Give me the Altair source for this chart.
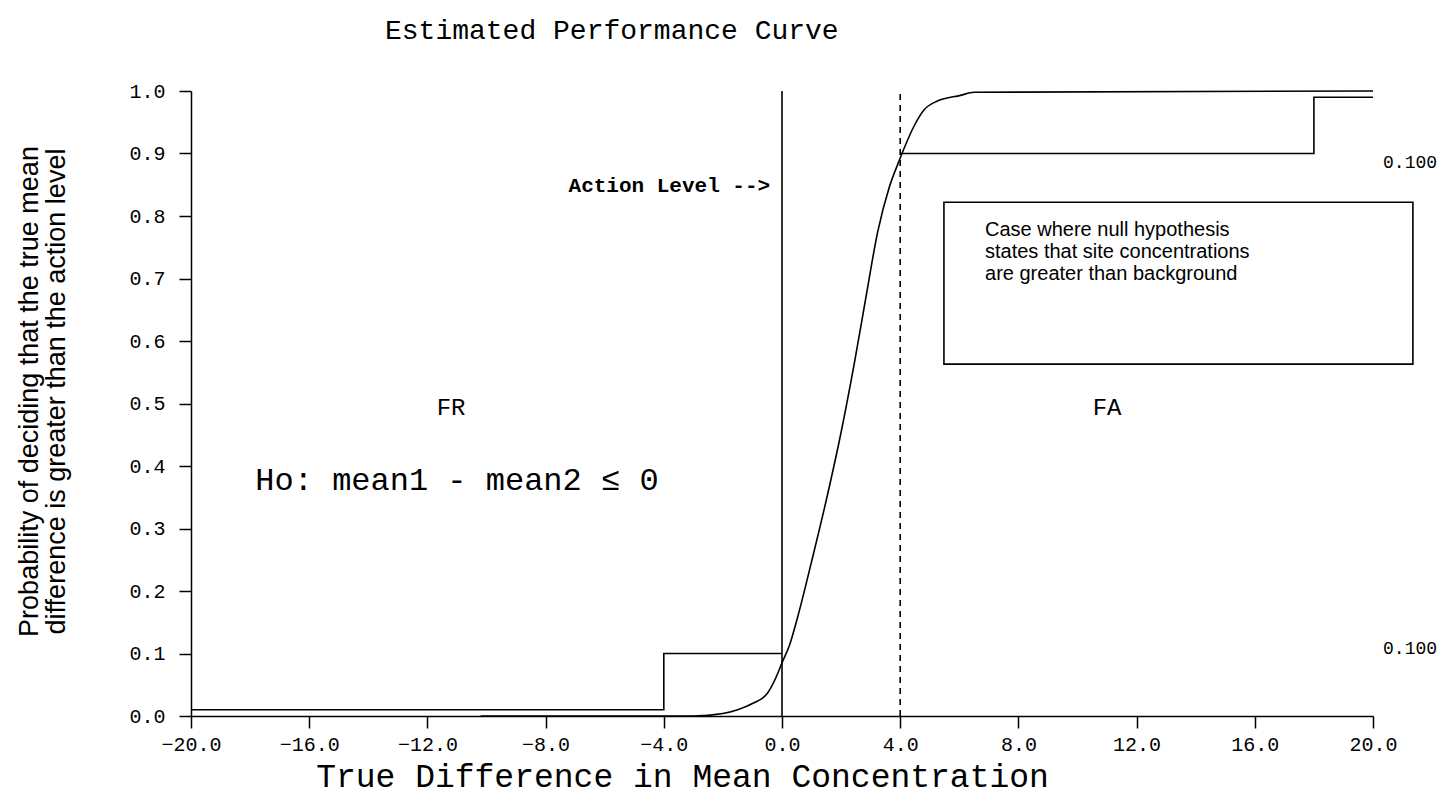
import altair as alt
import pandas as pd

# ---- data ----
curve_x = [-10.2, -3.0, -2.0, -1.5, -1.0, -0.5, -0.2, 0.0, 0.26, 0.54, 0.99, 1.55, 2.0,
           2.45, 2.84, 3.24, 3.63, 3.97, 4.13, 4.47, 4.81, 5.26, 6.04, 6.5, 20.0]
curve_y = [0.0, 0.0, 0.004, 0.01, 0.02, 0.036, 0.062, 0.085, 0.114, 0.16, 0.245, 0.356, 0.454,
           0.565, 0.67, 0.775, 0.846, 0.889, 0.908, 0.944, 0.97, 0.984, 0.993, 0.998, 1.0]

low_step_x = [-20.0, -4.0, -4.0, 0.0]
low_step_y = [0.01, 0.01, 0.1, 0.1]
high_step_x = [4.0, 18.0, 18.0, 20.0]
high_step_y = [0.9, 0.9, 0.99, 0.99]

action_level = 0.0
gray_region_edge = 4.0

x_ticks = [-20, -16, -12, -8, -4, 0, 4, 8, 12, 16, 20]
y_ticks = [0.0, 0.1, 0.2, 0.3, 0.4, 0.5, 0.6, 0.7, 0.8, 0.9, 1.0]

box_x = [5.48]
box_x2 = [21.35]
box_y = [0.822]
box_y2 = [0.563]
box_lines = ["Case where null hypothesis",
             "states that site concentrations",
             "are greater than background"]

right_labels = ["0.100", "0.100"]
right_label_y = [0.885, 0.107]

# ---- chart ----
W, H = 1182, 625
xs = alt.Scale(domain=[-20, 20], nice=False, zero=False)
ys = alt.Scale(domain=[0, 1], nice=False, zero=False)

x_axis = alt.Axis(values=x_ticks, format=".1f", grid=False, domainColor="black",
                  domainWidth=1.5, tickColor="black", tickWidth=1.5, tickSize=12,
                  labelFont="Liberation Mono", labelFontSize=20, labelColor="black",
                  labelPadding=6, labelFlush=False, labelOverlap=False,
                  title="True Difference in Mean Concentration",
                  titleFont="Liberation Mono", titleFontSize=33, titleFontWeight="normal",
                  titleColor="black", titleX=491, titleY=44)
y_axis = alt.Axis(values=y_ticks, format=".1f", grid=False, domainColor="black",
                  domainWidth=1.5, tickColor="black", tickWidth=1.5, tickSize=12,
                  labelFont="Liberation Mono", labelFontSize=20, labelColor="black",
                  labelPadding=14, labelFlush=False, labelOverlap=False,
                  title=["Probability of deciding that the true mean",
                         "difference is greater than the action level"],
                  titleFont="Liberation Sans", titleFontSize=27, titleFontWeight="normal",
                  titleColor="black", titleX=-148, titleY=300, titleLineHeight=27)

curve_df = pd.DataFrame({"x": curve_x, "y": curve_y})
curve = alt.Chart(curve_df).mark_line(color="black", strokeWidth=1.6,
                                      interpolate="monotone").encode(
    x=alt.X("x:Q", scale=xs, axis=x_axis),
    y=alt.Y("y:Q", scale=ys, axis=y_axis),
)

low_df = pd.DataFrame({"x": low_step_x, "y": low_step_y, "o": range(4)})
low = alt.Chart(low_df).mark_line(color="black", strokeWidth=1.6).encode(
    x=alt.X("x:Q", scale=xs), y=alt.Y("y:Q", scale=ys), order="o:Q")

high_df = pd.DataFrame({"x": high_step_x, "y": high_step_y, "o": range(4)})
high = alt.Chart(high_df).mark_line(color="black", strokeWidth=1.6).encode(
    x=alt.X("x:Q", scale=xs), y=alt.Y("y:Q", scale=ys), order="o:Q")

vline_df = pd.DataFrame({"x": [action_level], "y": [0.0], "y2": [1.0]})
vline = alt.Chart(vline_df).mark_rule(color="black", strokeWidth=1.6).encode(
    x=alt.X("x:Q", scale=xs), y=alt.Y("y:Q", scale=ys), y2="y2:Q")

dline_df = pd.DataFrame({"x": [gray_region_edge], "y": [0.0], "y2": [1.0]})
dline = alt.Chart(dline_df).mark_rule(color="black", strokeWidth=1.6,
                                      strokeDash=[6, 5]).encode(
    x=alt.X("x:Q", scale=xs), y=alt.Y("y:Q", scale=ys), y2="y2:Q")

box_df = pd.DataFrame({"x": box_x, "x2": box_x2, "y": box_y, "y2": box_y2})
box = alt.Chart(box_df).mark_rect(fill="white", stroke="black", strokeWidth=1.6).encode(
    x=alt.X("x:Q", scale=xs), x2="x2:Q", y=alt.Y("y:Q", scale=ys), y2="y2:Q")

box_text_df = pd.DataFrame({"x": [6.87], "y": [0.793], "t": [box_lines]})
box_text = alt.Chart(box_text_df).mark_text(
    font="Liberation Sans", fontSize=20, align="left", baseline="top",
    lineHeight=22, color="black").encode(
    x=alt.X("x:Q", scale=xs), y=alt.Y("y:Q", scale=ys), text="t")

action_df = pd.DataFrame({"x": [-0.4], "y": [0.848], "t": ["Action Level -->"]})
action = alt.Chart(action_df).mark_text(
    font="Liberation Mono", fontSize=21, fontWeight="bold", align="right",
    baseline="middle", color="black").encode(
    x=alt.X("x:Q", scale=xs), y=alt.Y("y:Q", scale=ys), text="t")

region_df = pd.DataFrame({"x": [-11.2, 11.0], "y": [0.493, 0.493], "t": ["FR", "FA"]})
regions = alt.Chart(region_df).mark_text(
    font="Liberation Mono", fontSize=24, align="center", baseline="middle",
    color="black").encode(
    x=alt.X("x:Q", scale=xs), y=alt.Y("y:Q", scale=ys), text="t")

ho_df = pd.DataFrame({"x": [-11.0], "y": [0.378], "t": ["Ho: mean1 - mean2 ≤ 0"]})
ho = alt.Chart(ho_df).mark_text(
    font="Liberation Mono", fontSize=32, align="center", baseline="middle",
    color="black").encode(
    x=alt.X("x:Q", scale=xs), y=alt.Y("y:Q", scale=ys), text="t")

rl_df = pd.DataFrame({"x": [20.34, 20.34], "y": right_label_y, "t": right_labels})
rlab = alt.Chart(rl_df).mark_text(
    font="Liberation Mono", fontSize=18, align="left", baseline="middle",
    color="black").encode(
    x=alt.X("x:Q", scale=xs), y=alt.Y("y:Q", scale=ys), text="t")

chart = alt.layer(
    box, box_text, low, high, vline, dline, curve, action, regions, ho, rlab
).properties(
    width=W, height=H,
    title=alt.TitleParams("Estimated Performance Curve", font="Liberation Mono",
                          fontSize=28, fontWeight="normal", color="black",
                          anchor="start", frame="group", dx=194, offset=36),
    autosize=alt.AutoSizeParams(type="none"),
    padding={"left": 183, "top": 83, "right": 73, "bottom": 84},
    background="white",
).configure_view(stroke=None)

chart.save("out.html", embed_options={"renderer": "svg", "actions": False})
